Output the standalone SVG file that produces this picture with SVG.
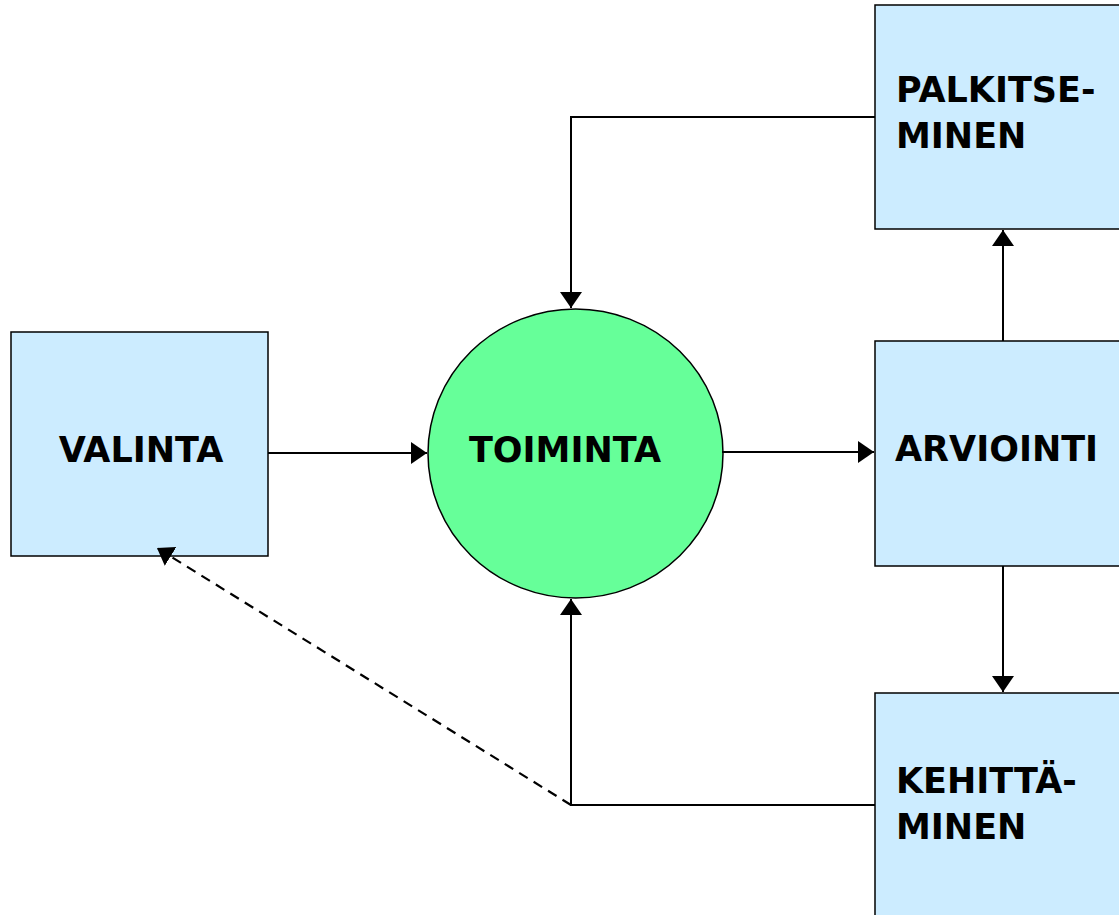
<svg xmlns="http://www.w3.org/2000/svg" width="1119" height="915" viewBox="0 0 1119 915">
<style>
.box{fill:#CCECFF;stroke:#000;stroke-width:1.5}
.lbl{font-family:"DejaVu Sans",sans-serif;font-weight:bold;font-size:35px;fill:#000}
.con{fill:none;stroke:#000;stroke-width:2}
.dash{stroke-width:2.2;stroke-dasharray:10,7}
</style>
<defs>
<marker id="ah" markerUnits="userSpaceOnUse" markerWidth="18" markerHeight="24" refX="16" refY="11" orient="auto">
<path d="M0,0 L16,11 L0,22 Z" fill="#000"/>
</marker>
</defs>
<rect width="1119" height="915" fill="#fff"/>
<g id="valinta">
<rect class="box" x="11" y="332" width="257" height="224"/>
<text class="lbl" x="141" y="462" text-anchor="middle">VALINTA</text>
</g>
<g id="toiminta">
<ellipse cx="575.5" cy="453.5" rx="147.5" ry="144.5" fill="#66FF99" stroke="#000" stroke-width="1.5"/>
<text class="lbl" x="565" y="462" text-anchor="middle">TOIMINTA</text>
</g>
<g id="palkitseminen">
<rect class="box" x="875" y="5" width="260" height="224"/>
<text class="lbl" x="896" y="102">PALKITSE-</text>
<text class="lbl" x="896" y="148">MINEN</text>
</g>
<g id="arviointi">
<rect class="box" x="875" y="341" width="260" height="225"/>
<text class="lbl" x="895" y="461">ARVIOINTI</text>
</g>
<g id="kehittaminen">
<rect class="box" x="875" y="693" width="260" height="240"/>
<text class="lbl" x="896" y="793">KEHITTÄ-</text>
<text class="lbl" x="896" y="839">MINEN</text>
</g>
<g id="connectors">
<path class="con" d="M268,453 H427" marker-end="url(#ah)"/>
<path class="con" d="M722,452 H874" marker-end="url(#ah)"/>
<path class="con" d="M1003,341 V230" marker-end="url(#ah)"/>
<path class="con" d="M1003,566 V692" marker-end="url(#ah)"/>
<path class="con" d="M875,117 H571 V308" marker-end="url(#ah)"/>
<path class="con" d="M875,805 H571 V599" marker-end="url(#ah)"/>
<path class="con dash" d="M571,805 L157,548" marker-end="url(#ah)"/>
</g>
</svg>
